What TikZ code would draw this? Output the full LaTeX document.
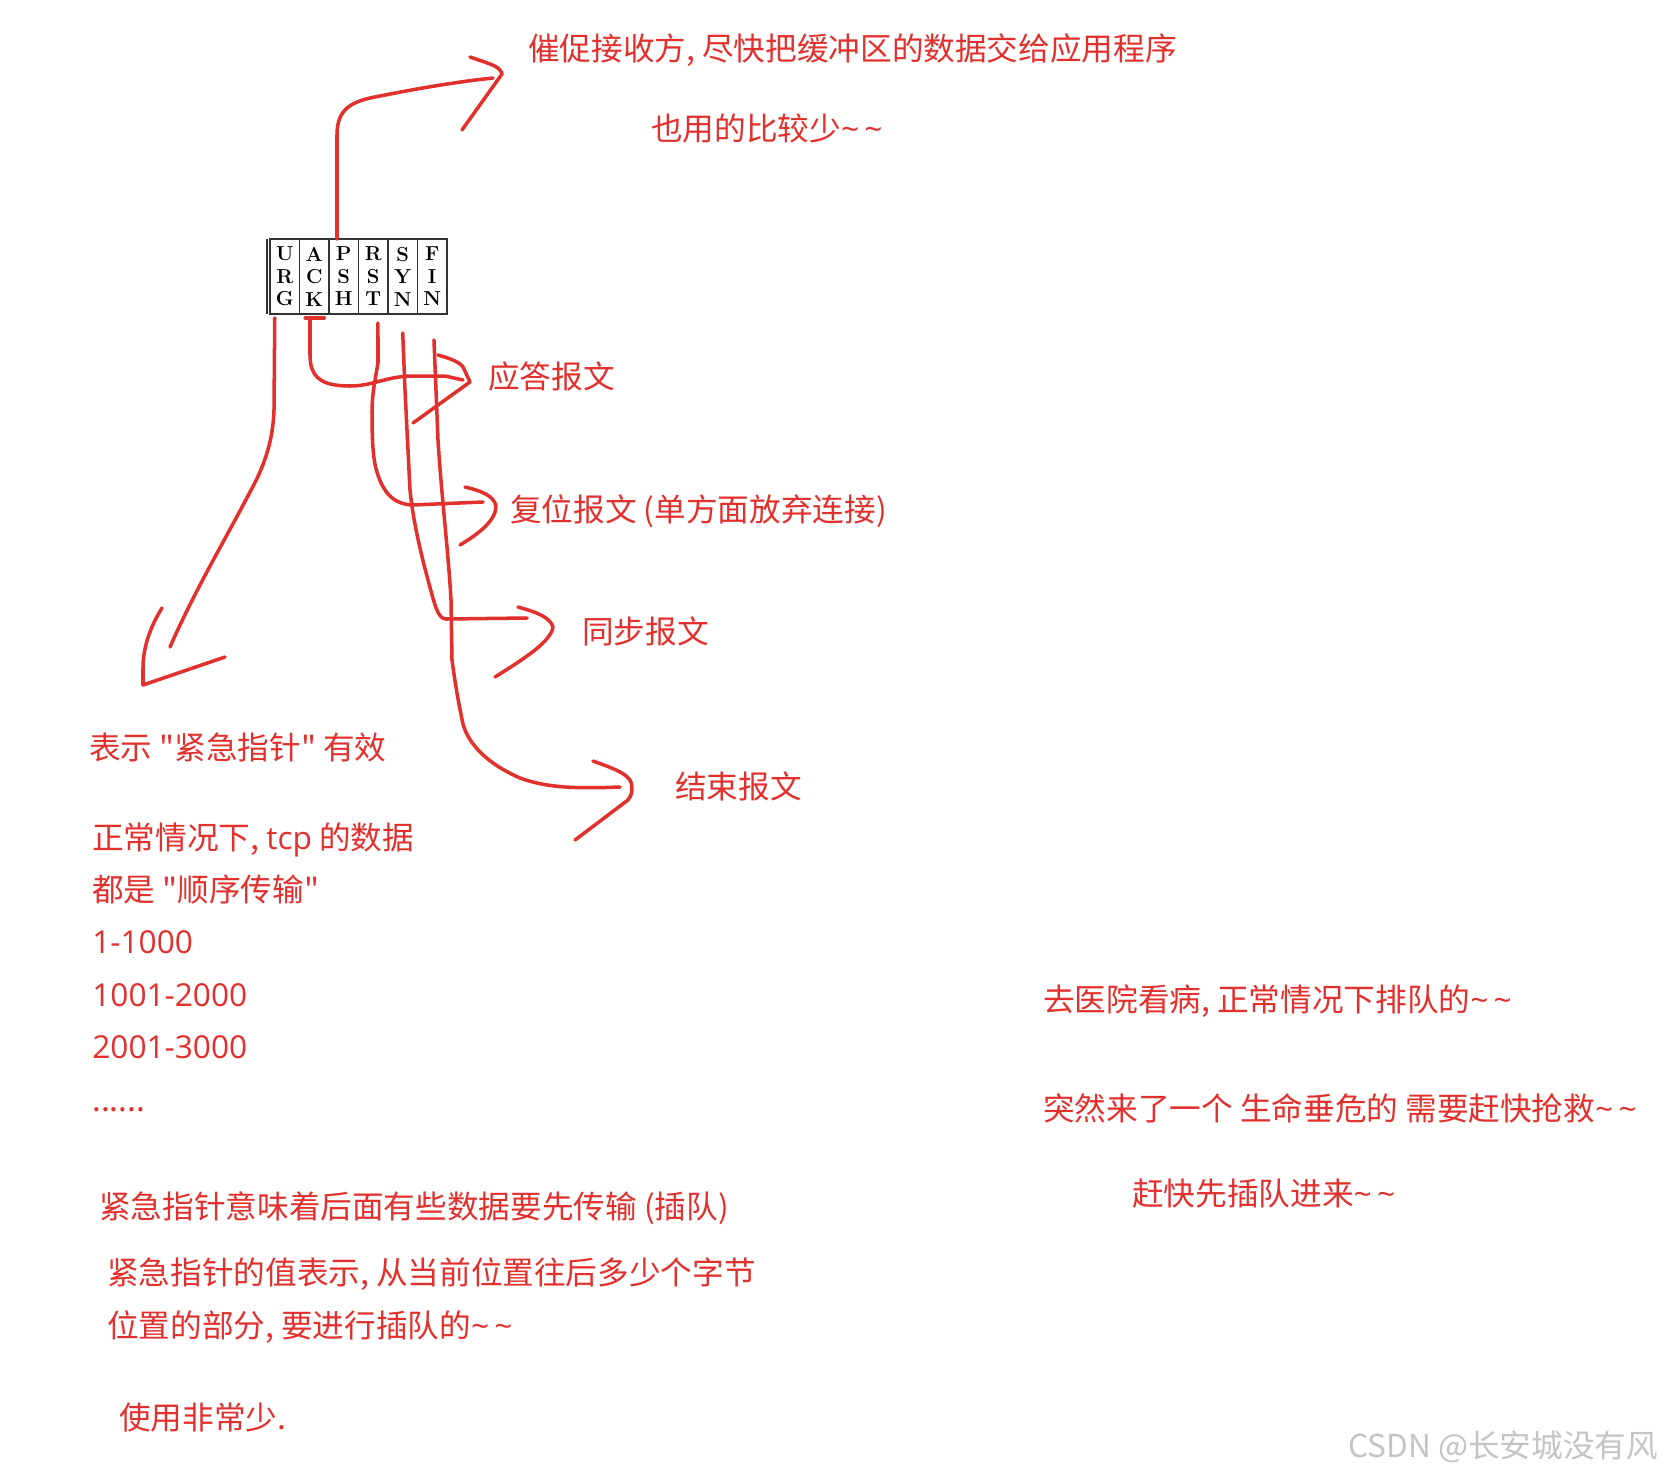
\documentclass[tikz,border=0pt]{standalone}
\usepackage{fontspec}
\newfontfamily\cjkfont{Noto Sans CJK SC}
\newfontfamily\latinfont{Open Sans}
\usepackage{tikz}
\usetikzlibrary{positioning,calc}
\definecolor{inkred}{RGB}{226,48,45}
\definecolor{markgrey}{RGB}{196,196,196}
\newcommand{\tildes}{{\latinfont\textasciitilde\,\textasciitilde}}
\tikzset{
  flagcell/.style={rectangle,draw=black!80,line width=0.8pt,minimum width=0.59cm,minimum height=1.5cm,inner sep=0pt,outer sep=0pt,align=center,font=\fontsize{11.5}{12.8}\selectfont\bfseries},
  notetext/.style={anchor=west,inner sep=0pt,text=inkred,font={\cjkfont\fontsize{18}{22}\selectfont}},
  inkline/.style={draw=inkred,line width=2pt,line cap=round,line join=round},
  watermark/.style={anchor=west,inner sep=0pt,text=markgrey,font={\cjkfont\fontsize{18}{22}\selectfont}}
}

\begin{document}
\begin{tikzpicture}[x=0.02cm,y=-0.02cm]
  \fill[white] (0,0) rectangle (1666,1478);
  \useasboundingbox (0,0) rectangle (1666,1478);

  % TCP flag bits
  \node[flagcell] (urg) at (284.75,276.5) {U\\R\\G};
  \node[flagcell, right=0pt of urg] (ack) {A\\C\\K};
  \node[flagcell, right=0pt of ack] (psh) {P\\S\\H};
  \node[flagcell, right=0pt of psh] (rst) {R\\S\\T};
  \node[flagcell, right=0pt of rst] (syn) {S\\Y\\N};
  \node[flagcell, right=0pt of syn] (fin) {F\\I\\N};
  \draw[line width=1.6pt,black!80] (urg.north west) -- (fin.north east);
  \draw[line width=0.8pt,black!80] ([xshift=-0.06cm]urg.north west) -- ([xshift=-0.06cm]urg.south west);

  % labels
  \node[notetext] (pshnote) at (528,50) {催促接收方, 尽快把缓冲区的数据交给应用程序};
  \node[notetext] (pshrare) at (651,128) {也用的比较少\tildes};
  \node[notetext] (acklabel) at (488,376) {应答报文};
  \node[notetext] (rstlabel) at (510,511) {复位报文 (单方面放弃连接)};
  \node[notetext] (synlabel) at (582,631) {同步报文};
  \node[notetext] (finlabel) at (675,786) {结束报文};
  \node[notetext] (urglabel) at (89,747) {表示 "紧急指针" 有效};

  \node[notetext, anchor=base west] (seq1) at (92,849) {正常情况下, {\latinfont tcp} 的数据};
  \node[notetext, anchor=base west] (seq2) at ([yshift=-1.05cm]seq1.base west) {都是 "顺序传输"};
  \node[notetext, anchor=base west] (seq3) at ([yshift=-1.05cm]seq2.base west) {\latinfont 1-1000};
  \node[notetext, anchor=base west] (seq4) at ([yshift=-1.05cm]seq3.base west) {\latinfont 1001-2000};
  \node[notetext, anchor=base west] (seq5) at ([yshift=-1.05cm]seq4.base west) {\latinfont 2001-3000};
  \node[notetext, anchor=base west] (seq6) at ([yshift=-1.05cm]seq5.base west) {......};

  \node[notetext] (urgmean) at (99,1208) {紧急指针意味着后面有些数据要先传输 (插队)};
  \node[notetext] (urgval1) at (107,1274) {紧急指针的值表示, 从当前位置往后多少个字节};
  \node[notetext] (urgval2) at (107,1327) {位置的部分, 要进行插队的\tildes};
  \node[notetext] (urgrare) at (119,1418) {使用非常少.};

  \node[notetext] (story1) at (1043,1001) {去医院看病, 正常情况下排队的\tildes};
  \node[notetext] (story2) at (1043,1108) {突然来了一个 生命垂危的 需要赶快抢救\tildes};
  \node[notetext] (story3) at (1132,1194) {赶快先插队进来\tildes};

  \node[watermark] (mark) at (1348,1447) {CSDN @长安城没有风};

  % free ends of the strokes
  \coordinate (pshend) at (493,78);
  \coordinate (urgend) at (170,647);
  \coordinate (ackend) at (463,380);
  \coordinate (rstend) at (483,502);
  \coordinate (synend) at (527,618);
  \coordinate (finend) at (620,787);

  % PSH
  \draw[inkline] ([xshift=-0.135cm]psh.north) -- (337,135) .. controls (337,108) and (352,101) .. (380,96) .. controls (415,89) and (455,82) .. (pshend);
  \draw[inkline] (470,57) .. controls (490,64) and (500,66) .. (502,74) -- (462,130);

  % URG
  \draw[inkline] ([xshift=-0.2cm,yshift=-0.08cm]urg.south) -- (274,410) .. controls (273,440) and (265,465) .. (250,492) .. controls (225,540) and (195,590) .. (urgend);
  \draw[inkline] (162,608) .. controls (150,627) and (143,648) .. (143,668) -- (143,685) -- (225,657);

  % ACK
  \draw[inkline] ([xshift=-0.18cm,yshift=-0.08cm]ack.south) -- ++(19,0);
  \draw[inkline] ([xshift=-0.085cm,yshift=-0.08cm]ack.south) -- (310,355) .. controls (310,378) and (322,386) .. (350,386) .. controls (372,386) and (385,377) .. (410,376) -- (445,376) -- (ackend);
  \draw[inkline] (438,355) .. controls (452,359) and (462,363) .. (464,369) -- (470,382) -- (413,423);

  % RST
  \draw[inkline] ([xshift=0.095cm,yshift=-0.18cm]rst.south) -- (378,363) .. controls (375,380) and (372,395) .. (372,412) .. controls (372,440) and (373,460) .. (377,472) .. controls (383,492) and (393,504) .. (412,505) -- (rstend);
  \draw[inkline] (465,487) .. controls (482,491) and (494,496) .. (496,506) .. controls (496,520) and (480,533) .. (460,545);

  % SYN
  \draw[inkline] ([yshift=-0.38cm]syn.south) -- (405,390) .. controls (407,430) and (409,470) .. (410,490) .. controls (413,520) and (420,550) .. (428,580) .. controls (435,606) and (438,619) .. (446,619) -- (synend);
  \draw[inkline] (518,607) .. controls (536,612) and (550,617) .. (553,627) .. controls (551,642) and (522,660) .. (495,677);

  % FIN
  \draw[inkline] ([xshift=0.035cm,yshift=-0.52cm]fin.south) -- (438,440) .. controls (441,490) and (449,560) .. (451,600) -- (452,660) .. controls (456,690) and (460,710) .. (463,724) .. controls (469,746) and (490,765) .. (520,778) .. controls (545,787) and (570,789) .. (finend);
  \draw[inkline] (593,761) .. controls (612,768) and (627,773) .. (631,782) .. controls (633,790) and (632,795) .. (628,800) -- (575,840);
\end{tikzpicture}
\end{document}
